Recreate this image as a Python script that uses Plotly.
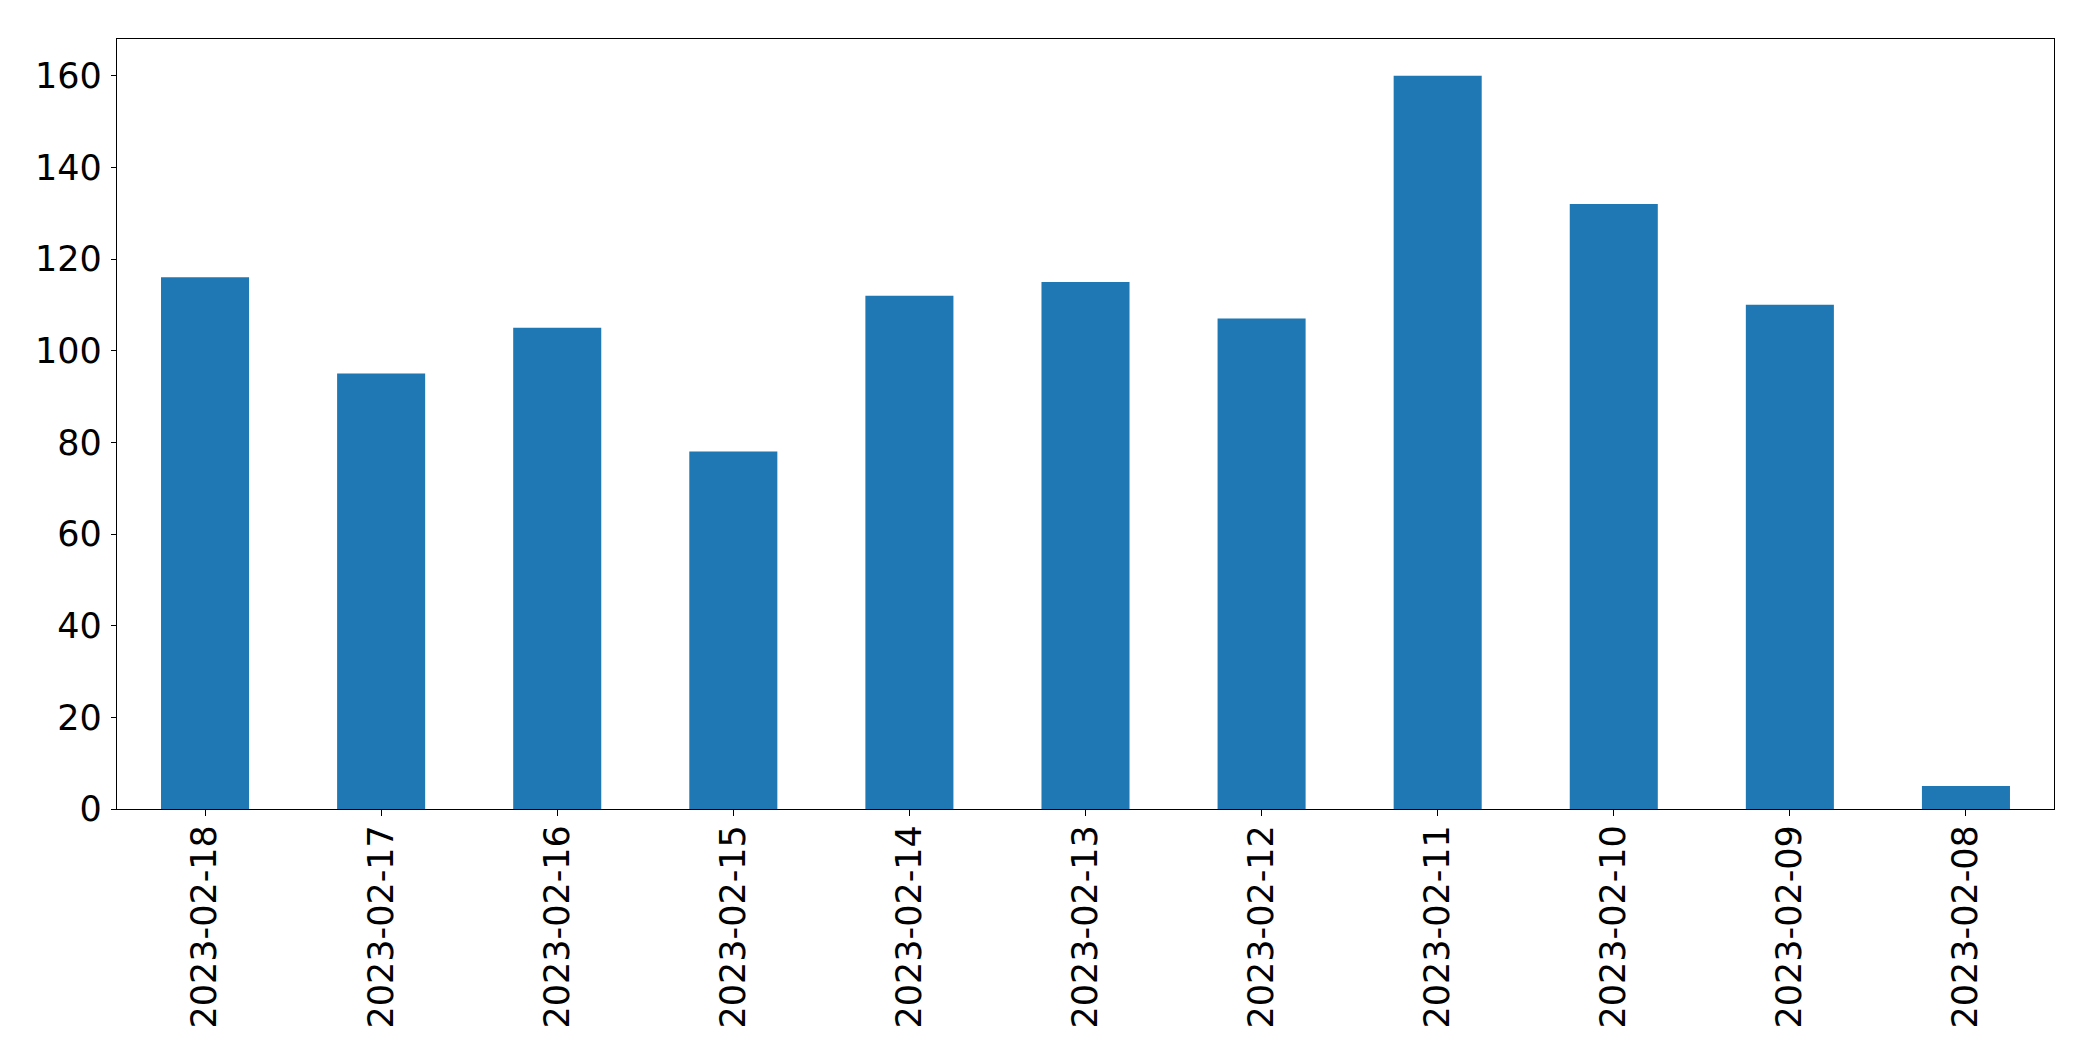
import plotly.graph_objects as go

dates = ["2023-02-18", "2023-02-17", "2023-02-16", "2023-02-15", "2023-02-14",
         "2023-02-13", "2023-02-12", "2023-02-11", "2023-02-10", "2023-02-09", "2023-02-08"]
counts = [116, 95, 105, 78, 112, 115, 107, 160, 132, 110, 5]
y_ticks = [0, 20, 40, 60, 80, 100, 120, 140, 160]

fig = go.Figure(go.Bar(x=dates, y=counts, width=0.5, marker=dict(color="#1f77b4", line=dict(width=0))))

fig.update_layout(
    width=2093, height=1061,
    margin=dict(l=117, r=39, t=39, b=252),
    plot_bgcolor="white", paper_bgcolor="white",
    font=dict(family="DejaVu Sans", size=35, color="black"),
    showlegend=False,
)
fig.update_xaxes(
    type="category", range=[-0.5, 10.5], tickangle=-90,
    showline=True, linecolor="black", linewidth=1.3, mirror=True,
    ticks="outside", ticklen=6, tickwidth=1.3, tickcolor="black",
    showgrid=False, zeroline=False, ticklabelstandoff=-5,
)
fig.update_yaxes(
    range=[0, 168], tickvals=y_ticks, ticktext=[str(v) for v in y_ticks],
    showline=True, linecolor="black", linewidth=1.3, mirror=True,
    ticks="outside", ticklen=5, tickwidth=1.3, tickcolor="black",
    showgrid=False, zeroline=False, ticklabelstandoff=2,
)

fig.write_html("out.html")
